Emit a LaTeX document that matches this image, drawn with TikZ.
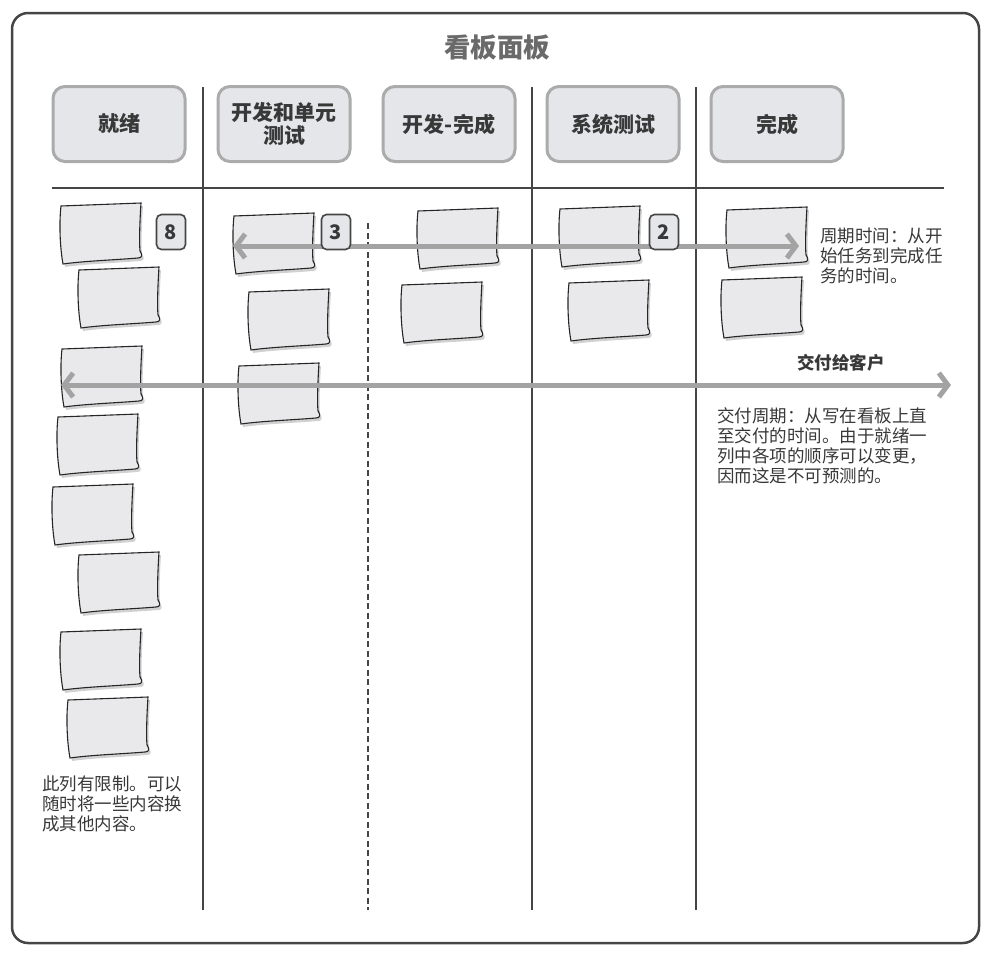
\documentclass[tikz,border=0pt]{standalone}
\usepackage{fontspec}
\setmainfont{Noto Sans CJK SC}
\usetikzlibrary{arrows.meta}

\definecolor{framegray}{HTML}{454545}
\definecolor{boxfill}{HTML}{E4E6EA}
\definecolor{boxline}{HTML}{ABABAB}
\definecolor{notefill}{HTML}{E9E9EB}
\definecolor{arrowgray}{HTML}{A3A3A3}
\definecolor{textgray}{HTML}{383838}
\definecolor{titlegray}{HTML}{6A6A6A}

\tikzstyle{column}=[rounded corners=12pt, draw=boxline, line width=3pt, fill=boxfill, minimum width=132pt, minimum height=75pt, align=center, text=textgray, font=\fontsize{21}{22.5}\selectfont\bfseries]
\tikzstyle{limit}=[rounded corners=5pt, draw=framegray, line width=1.6pt, fill=boxfill, minimum width=29pt, minimum height=35pt, inner sep=0pt, text=textgray, font=\fontsize{20}{20}\selectfont\bfseries]
\tikzstyle{divider}=[framegray, line width=2.5pt]
\tikzstyle{span}=[arrowgray, line width=5pt, {Straight Barb[length=9pt,width=24pt]}-{Straight Barb[length=9pt,width=24pt]}]
\tikzstyle{remark}=[align=left, anchor=north west, inner sep=0pt, text=textgray, font=\fontsize{17.5}{20}\selectfont]

\newcommand{\notepath}{(2,3) -- (82,0) .. controls (81,15) and (80,38) .. (81,48) .. controls (84,52) and (83,55) .. (79,55) .. controls (55,57) and (25,58) .. (4,61) .. controls (1,45) and (0,20) .. (2,3) -- cycle}
\newcommand{\stickynote}[3]{%
\begin{scope}[shift={(#2,#3)}]
\fill[black, opacity=.18, shift={(2,3)}] \notepath;
\filldraw[fill=notefill, draw=black!85, line width=1.1pt] \notepath;
\coordinate (#1) at (41,30);
\end{scope}}

\begin{document}
\begin{tikzpicture}[x=1pt,y=-1pt]
\useasboundingbox (0,0) rectangle (997,954);
\draw[framegray, line width=2.5pt, rounded corners=16pt] (12,13) rectangle (979,943);

\node[text=titlegray, font=\fontsize{26.5}{26.5}\selectfont\bfseries] (title) at (497,48) {看板面板};

\node[column] (ready) at (119,124) {就绪};
\node[column] (devunit) at (284,124) {开发和单元\\测试};
\node[column] (devdone) at (449,124) {开发-完成};
\node[column] (systest) at (613,124) {系统测试};
\node[column] (done) at (777,124) {完成};

\draw[divider] (52,188) -- (944,188);
\draw[divider] (203,87) -- (203,910);
\draw[divider] (532,87) -- (532,910);
\draw[divider] (696,87) -- (696,910);
\draw[framegray, line width=1.6pt, dash pattern=on 6pt off 3.5pt] (368,223) -- (368,910);

\stickynote{r1}{59}{203}
\stickynote{r2}{77}{267}
\stickynote{r3}{60}{346}
\stickynote{r4}{56}{414}
\stickynote{r5}{51}{484}
\stickynote{r6}{77}{552}
\stickynote{r7}{59}{629}
\stickynote{r8}{66}{697}

\stickynote{u1}{232}{213}
\stickynote{u2}{247}{289}
\stickynote{u3}{237}{363}

\stickynote{d1}{416}{208}
\stickynote{d2}{400}{282}

\stickynote{s1}{558}{206}
\stickynote{s2}{567}{280}

\stickynote{f1}{725}{207}
\stickynote{f2}{720}{277}

\coordinate (cyclestart) at (233,246);
\coordinate (cycleend) at (799,246);
\coordinate (leadstart) at (61,385);
\coordinate (leadend) at (951,385);
\draw[span] (cyclestart) -- (cycleend);
\draw[span] (leadstart) -- (leadend);

\node[limit] (limitready) at (171,232) {8};
\node[limit] (limitdev) at (336,232) {3};
\node[limit] (limittest) at (664,232) {2};

\node[remark] (cyclenote) at (820,228) {周期时间：从开\\始任务到完成任\\务的时间。};
\node[text=textgray, font=\fontsize{17.5}{20}\selectfont\bfseries] (delivered) at (841,363) {交付给客户};
\node[remark] (leadnote) at (717,407) {交付周期：从写在看板上直\\至交付的时间。由于就绪一\\列中各项的顺序可以变更，\\因而这是不可预测的。};
\node[remark] (limitnote) at (42,776) {此列有限制。可以\\随时将一些内容换\\成其他内容。};
\end{tikzpicture}
\end{document}
